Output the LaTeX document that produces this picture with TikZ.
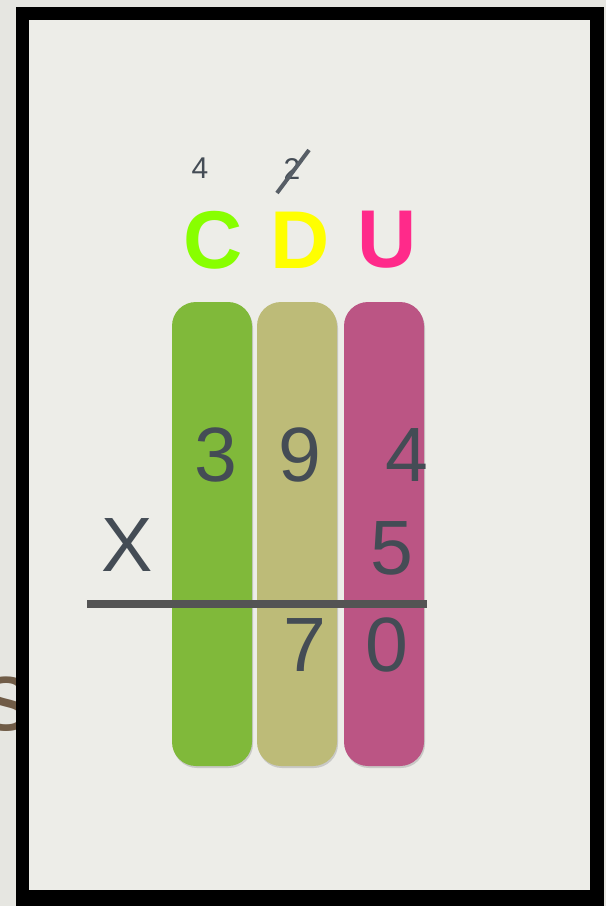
\documentclass[tikz,border=0pt]{standalone}
\usepackage{fontspec}
\setmainfont{Liberation Sans}
\definecolor{paper}{HTML}{EDEDE8}
\definecolor{ink}{HTML}{444C55}
\definecolor{barC}{HTML}{80B93A}
\definecolor{barD}{HTML}{BDBB78}
\definecolor{barU}{HTML}{BB5584}
\definecolor{headC}{HTML}{88FF00}
\definecolor{headD}{HTML}{FFFF00}
\definecolor{headU}{HTML}{FF2A8A}
\tikzset{
  digit/.style={inner sep=0pt, text=ink, font=\fontsize{77}{77}\selectfont},
  carry/.style={inner sep=0pt, text=ink, font=\fontsize{30}{30}\selectfont},
  head/.style={inner sep=0pt, font=\fontsize{82}{82}\selectfont\bfseries},
  bar/.style={rounded corners=24pt, minimum width=80pt, minimum height=464pt, inner sep=0pt}
}
\begin{document}
\begin{tikzpicture}[x=1pt, y=-1pt]
        \useasboundingbox (0,0) rectangle (606,906);
        \fill[paper!97!black] (0,0) rectangle (606,906);

        % Frame
        \fill[black] (16,7) rectangle (604,906);
        \fill[paper] (29,20) rectangle (590,890);

        % Stray letter at the left edge, under the frame line
        \node[inner sep=0pt, text=black!60!brown!80, font=\fontsize{100}{100}\selectfont] (stray) at (6, 704) {s};
        \fill[black] (16,640) rectangle (29,760);

        % Column bars
        \foreach \col/\x in {C/212, D/297, U/384} {
            \node[bar, fill=black!35, opacity=0.5] at (\x+1, 536) {};
            \node[bar, fill=bar\col] (bar\col) at (\x, 534) {};
        }

        % Column headers
        \foreach \col/\x in {C/213, D/300, U/387} {
            \node[head, text=head\col] (head\col) at (\x, 240) {\col};
        }

        % Carries
        \node[carry] (carryC) at (200, 168) {4};
        \node[carry] (carryD) at (292, 169) {2};
        \draw[ink!90, line width=4pt] ([shift={(-15,24)}]carryD.center) -- ([shift={(17,-19)}]carryD.center);

        % Factors
        \foreach \name/\x/\y/\d in {a/216/455/3, b/300/455/9, c/407/455/4, e/392/548/5} {
            \node[digit] (\name) at (\x, \y) {\d};
        }
        \node[digit] (times) at (127, 545) {X};

        % Result line
        \coordinate (lineL) at (87, 604);
        \coordinate (lineR) at (427, 604);
        \draw[black!67, line width=8pt] (lineL) -- (lineR);

        % Result
        \node[digit] (r1) at (305, 645) {7};
        \node[digit] (r2) at (387, 645) {0};
    \end{tikzpicture}
\end{document}
